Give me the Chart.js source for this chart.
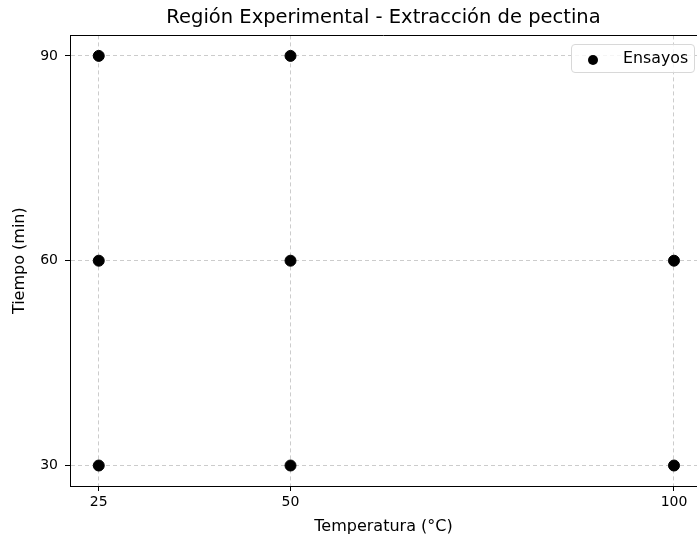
<!DOCTYPE html>
<html>
<head>
<meta charset="utf-8">
<script src="https://cdn.jsdelivr.net/npm/chart.js@4"></script>
<style>
  body { margin: 0; background: #fff; overflow: hidden; }
  #wrap { position: relative; width: 697px; height: 537px; }
  #leyenda {
    position: absolute; left: 571px; top: 44px; width: 124px; height: 29px;
    border: 1px solid #d8d8d8; border-radius: 4px; background: rgba(255,255,255,0.8);
    font-family: "DejaVu Sans", sans-serif; font-size: 15.8px; color: #000;
    box-sizing: border-box;
  }
  #leyenda .punto {
    position: absolute; left: 16px; top: 10px; width: 10px; height: 10px;
    border-radius: 50%; background: #000;
  }
  #leyenda .texto { position: absolute; left: 51px; top: 3px; }
</style>
</head>
<body>
<div id="wrap">
  <canvas id="grafico" width="697" height="537"></canvas>
  <div id="leyenda"><span class="punto"></span><span class="texto">Ensayos</span></div>
</div>
<script>
// ensayos (temperatura, tiempo)
const temperaturas = [25, 25, 25, 50, 50, 50, 100, 100];
const tiempos = [30, 60, 90, 30, 60, 90, 30, 60];
const ticksTemperatura = [25, 50, 100];
const ticksTiempo = [30, 60, 90];

const puntos = temperaturas.map((t, i) => ({ x: t, y: tiempos[i] }));

// borde superior del area del grafico
const bordeSuperior = {
  id: 'bordeSuperior',
  afterDraw(chart) {
    const { ctx, chartArea } = chart;
    const y = Math.round(chartArea.top) + 0.5;
    ctx.save();
    ctx.strokeStyle = '#000';
    ctx.lineWidth = 1;
    ctx.beginPath();
    ctx.moveTo(chartArea.left, y);
    ctx.lineTo(chartArea.right, y);
    ctx.stroke();
    ctx.restore();
  }
};

const fuenteTicks = { family: '"DejaVu Sans", sans-serif', size: 14 };
const fuenteEtiquetas = { family: '"DejaVu Sans", sans-serif', size: 16 };

new Chart(document.getElementById('grafico').getContext('2d'), {
  type: 'scatter',
  data: {
    datasets: [{
      label: 'Ensayos',
      data: puntos,
      backgroundColor: '#000',
      borderColor: '#000',
      pointRadius: 5.5,
      pointHoverRadius: 5.5
    }]
  },
  options: {
    responsive: false,
    animation: false,
    layout: { padding: 0, autoPadding: false },
    plugins: {
      legend: { display: false },
      tooltip: { enabled: false },
      title: {
        display: true,
        text: 'Región Experimental - Extracción de pectina',
        fullSize: false,
        color: '#000',
        font: { family: '"DejaVu Sans", sans-serif', size: 19.5, weight: 'normal' },
        padding: { top: 6, bottom: 6 }
      }
    },
    scales: {
      x: {
        type: 'linear',
        min: 21.25,
        max: 103,
        z: 1,
        afterBuildTicks: (scale) => { scale.ticks = ticksTemperatura.map(v => ({ value: v })); },
        afterFit: (scale) => { scale.height = 51; scale.paddingRight = 0; },
        grid: { color: '#cccccc', tickColor: '#000', tickLength: 5, tickBorderDash: [] },
        border: { display: true, color: '#000', width: 1, dash: [4, 3] },
        ticks: { color: '#000', font: fuenteTicks, padding: 3, maxRotation: 0 },
        title: { display: true, text: 'Temperatura (°C)', color: '#000', font: fuenteEtiquetas, padding: { top: 0, bottom: 1 } }
      },
      y: {
        type: 'linear',
        min: 27,
        max: 93,
        z: 1,
        afterBuildTicks: (scale) => { scale.ticks = ticksTiempo.map(v => ({ value: v })); },
        afterFit: (scale) => { scale.width = 70; scale.paddingTop = 0; scale.paddingBottom = 0; },
        grid: { color: '#cccccc', tickColor: '#000', tickLength: 5, tickBorderDash: [] },
        border: { display: true, color: '#000', width: 1, dash: [4, 3] },
        ticks: { color: '#000', font: fuenteTicks, padding: 7 },
        title: { display: true, text: 'Tiempo (min)', color: '#000', font: fuenteEtiquetas, padding: { top: 10, bottom: 0 } }
      }
    }
  },
  plugins: [bordeSuperior]
});
</script>
</body>
</html>
